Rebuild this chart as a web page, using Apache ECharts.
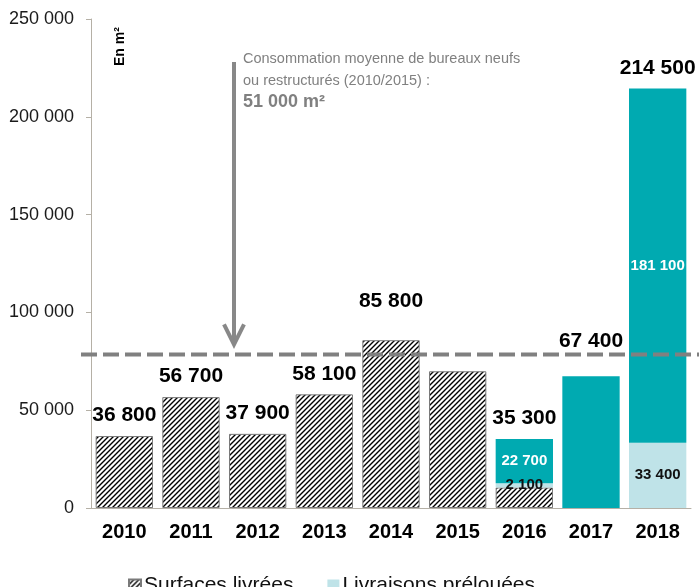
<!DOCTYPE html>
<html>
<head>
<meta charset="utf-8">
<script src="https://cdn.jsdelivr.net/npm/echarts@6/dist/echarts.min.js"></script>
<style>
  html, body { margin: 0; padding: 0; background: #fff; }
  #chart { width: 699px; height: 587px; }
</style>
</head>
<body>
<div id="chart"></div>
<script>
const years = ["2010", "2011", "2012", "2013", "2014", "2015", "2016", "2017", "2018"];
const livrees = [36800, 56700, 37900, 58100, 85800, 69900, 10500, null, null];
const prelouees = [null, null, null, null, null, null, 2100, null, 33400];
const enBlanc = [null, null, null, null, null, null, 22700, 67400, 181100];
const totals = [36800, 56700, 37900, 58100, 85800, null, 35300, 67400, 214500];
const yTicks = [0, 50000, 100000, 150000, 200000, 250000];
const avgLine = 78500;

const font = "Liberation Sans";
const teal = "#00aab1";
const lightBlue = "#bfe3e8";

function fmt(v) {
  return String(v).replace(/\B(?=(\d{3})+(?!\d))/g, " ");
}

// hatch tile: black "/" stripes on white
function hatch() {
  const c = document.createElement("canvas");
  c.width = 5;
  c.height = 5;
  const ctx = c.getContext("2d");
  ctx.fillStyle = "#fff";
  ctx.fillRect(0, 0, 5, 5);
  ctx.strokeStyle = "#000";
  ctx.lineWidth = 1.4;
  ctx.beginPath();
  ctx.moveTo(-1, 6); ctx.lineTo(6, -1);
  ctx.moveTo(-1, 1); ctx.lineTo(1, -1);
  ctx.moveTo(4, 6); ctx.lineTo(6, 4);
  ctx.stroke();
  return c;
}

const chart = echarts.init(document.getElementById("chart"));

const barWidth = "86%";
// a few total labels sit higher in the original
const totalLabelDistance = { 4: 28, 7: 24 };

const option = {
  animation: false,
  textStyle: { fontFamily: font },
  grid: { left: 91, right: 8, top: 19, bottom: 79 },
  legend: {
    data: ["Surfaces livrées", "Livraisons prélouées"],
    left: 123,
    top: 570,
    icon: "rect",
    itemWidth: 12,
    itemHeight: 12,
    itemGap: 34,
    textStyle: { fontFamily: font, fontSize: 21, color: "#111", padding: [0, 0, 0, -2] }
  },
  xAxis: {
    type: "category",
    data: years,
    axisLine: { lineStyle: { color: "#b5b0a6" } },
    axisTick: { length: 6, lineStyle: { color: "#b5b0a6" } },
    axisLabel: { fontFamily: font, fontSize: 20, fontWeight: "bold", color: "#000", margin: 14 }
  },
  yAxis: {
    type: "value",
    min: 0,
    max: 250000,
    interval: 50000,
    splitLine: { show: false },
    axisLine: { show: true, lineStyle: { color: "#b5b0a6" } },
    axisTick: { show: true, length: 5, lineStyle: { color: "#b5b0a6" } },
    axisLabel: {
      fontFamily: font, fontSize: 18, color: "#1a1a1a", margin: 17,
      formatter: v => yTicks.includes(v) ? fmt(v) : ""
    }
  },
  series: [
    {
      name: "Surfaces livrées",
      type: "bar",
      stack: "a",
      barWidth: barWidth,
      data: livrees,
      itemStyle: { color: { image: hatch(), repeat: "repeat" }, borderColor: "#7a7a7a", borderWidth: 1 }
    },
    {
      name: "Livraisons prélouées",
      type: "bar",
      stack: "a",
      barWidth: barWidth,
      data: prelouees.map((v, i) => ({
        value: v,
        // 2016: the strip is thin, the label sits over it
        label: i === 6 ? { position: "top", distance: -9 } : {}
      })),
      itemStyle: { color: lightBlue },
      label: {
        show: true,
        position: "inside",
        fontFamily: font, fontSize: 15, fontWeight: "bold", color: "#111",
        formatter: p => p.value ? fmt(p.value) : ""
      }
    },
    {
      name: "Livraisons en blanc",
      type: "bar",
      stack: "a",
      barWidth: barWidth,
      data: enBlanc.map((v, i) => ({
        value: v,
        label: { show: i !== 7 }
      })),
      itemStyle: { color: teal },
      label: {
        show: true,
        position: "inside",
        fontFamily: font, fontSize: 15, fontWeight: "bold", color: "#fff",
        formatter: p => p.value ? fmt(p.value) : ""
      }
    },
    {
      name: "Total",
      type: "bar",
      barWidth: barWidth,
      barGap: "-100%",
      z: 1,
      silent: true,
      itemStyle: { color: "rgba(0,0,0,0)" },
      data: totals.map((v, i) => ({
        value: v,
        label: { distance: totalLabelDistance[i] || 10 }
      })),
      label: {
        show: true,
        position: "top",
        fontFamily: font, fontSize: 21, fontWeight: "bold", color: "#000",
        formatter: p => p.value ? fmt(p.value) : ""
      }
    }
  ]
};

chart.setOption(option);

const yLine = chart.convertToPixel({ yAxisIndex: 0 }, avgLine);
const arrowX = 234;

chart.setOption({
  graphic: [
    {
      type: "line",
      shape: { x1: 81, y1: yLine, x2: 699, y2: yLine },
      style: { stroke: "#808080", lineWidth: 4, lineDash: [16, 6] },
      z: 10
    },
    {
      type: "line",
      shape: { x1: arrowX, y1: 62, x2: arrowX, y2: yLine - 10 },
      style: { stroke: "#888", lineWidth: 4 },
      z: 10
    },
    {
      type: "polyline",
      shape: { points: [[arrowX - 10, yLine - 30], [arrowX, yLine - 10], [arrowX + 10, yLine - 30]] },
      style: { stroke: "#888", lineWidth: 4, fill: null },
      z: 10
    },
    {
      type: "text",
      left: 243,
      top: 48,
      style: {
        text: "Consommation moyenne de bureaux neufs\nou restructurés (2010/2015) :",
        font: "14.5px " + font,
        fill: "#808080",
        lineHeight: 22
      }
    },
    {
      type: "text",
      left: 243,
      top: 93,
      style: { text: "51 000 m²", font: "bold 18px " + font, fill: "#808080" }
    },
    {
      type: "text",
      x: 113,
      y: 66,
      rotation: Math.PI / 2,
      style: { text: "En m²", font: "bold 14px " + font, fill: "#000" }
    }
  ]
});
</script>
</body>
</html>
